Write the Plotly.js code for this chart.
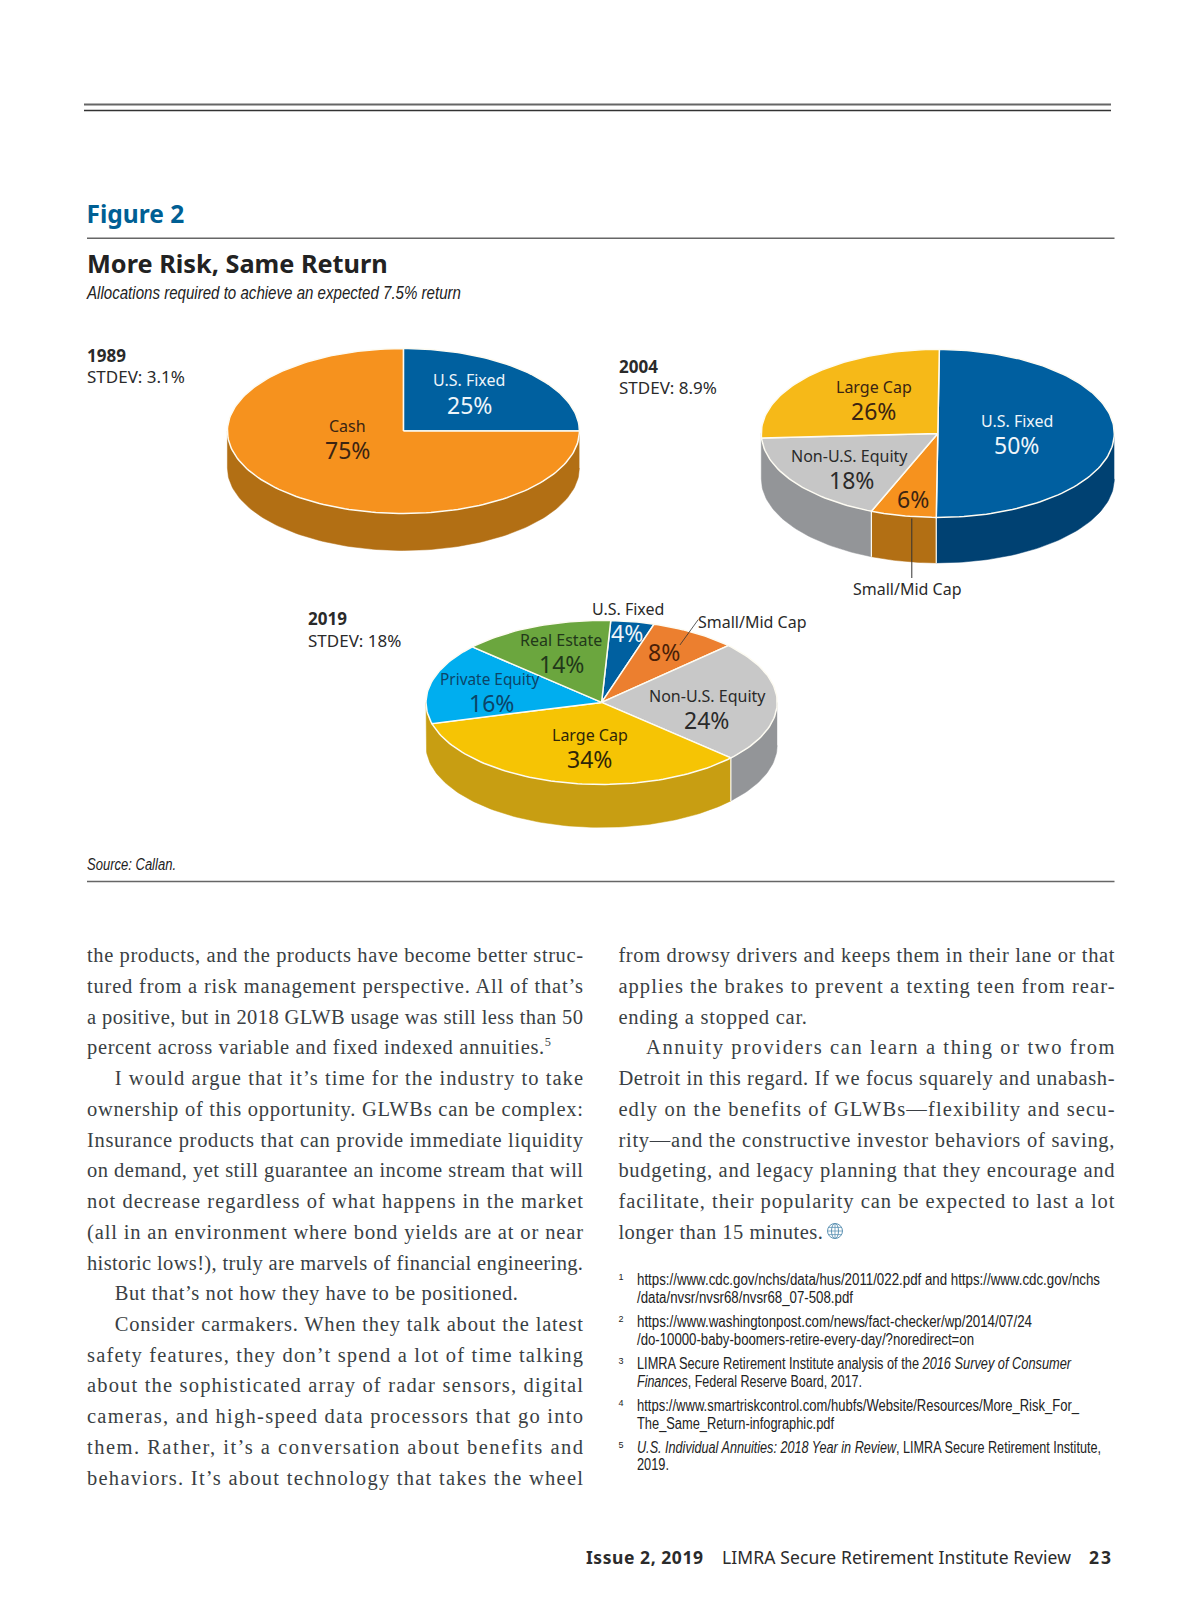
<!DOCTYPE html>
<html><head><meta charset="utf-8">
<script src="https://cdn.plot.ly/plotly-3.0.1.min.js"></script>
<style>
html,body{margin:0;padding:0;background:#fff;width:1200px;height:1606px;overflow:hidden}
#chart{position:absolute;left:0;top:0;width:1200px;height:1606px}
.ln{position:absolute;white-space:nowrap;line-height:1;transform:translateY(-50%);transform-origin:left center}
.body{font-family:"Liberation Serif",serif;font-size:20.5px;color:#3a3f44}
.note{font-family:"Liberation Sans",sans-serif;font-size:16px;color:#222}
.sub{font-family:"Liberation Sans",sans-serif;font-style:italic;font-size:18px;color:#222}
.src{font-family:"Liberation Sans",sans-serif;font-style:italic;font-size:16px;color:#222}
.foot{font-family:"Noto Sans",sans-serif;font-size:17.5px;color:#2b2b2b}
sup{font-size:60%;line-height:0}
</style></head><body>
<div id="chart"></div><div id="page"></div>
<script>
// ---- data ----
const categories1989 = ['U.S. Fixed','Cash'];
const values1989 = [25,75];
const categories2004 = ['U.S. Fixed','Small/Mid Cap','Non-U.S. Equity','Large Cap'];
const values2004 = [50,6,18,26];
const categories2019 = ['U.S. Fixed','Small/Mid Cap','Non-U.S. Equity','Large Cap','Private Equity','Real Estate'];
const values2019 = [4,8,24,34,16,14];
const stdev = {1989:'3.1%',2004:'8.9%',2019:'18%'};

// ---- styling ----
const topColors1989 = ['#00609F','#F6921E'];
const sideColors1989 = ['#004172','#B26F14'];
const topColors2004 = ['#005FA0','#F6921E','#C6C6C6','#F6B918'];
const sideColors2004 = ['#004172','#B26F14','#939598','#939598'];
const topColors2019 = ['#0060A0','#EC7F2F','#C8C8C8','#F6C404','#00AEEF','#6BA63E'];
const sideColors2019 = ['#004172','#B26F14','#939598','#C89E12','#C89E12','#C89E12'];

const W=1200,H=1606;
const px=x=>x/W, py=y=>1-y/H;
const pies=[
 {v:values1989,top:topColors1989,side:sideColors1989,cx:403.4,cy:431,rx:176,ry:82.5,depth:37,start:0},
 {v:values2004,top:topColors2004,side:sideColors2004,cx:937.8,cy:433.4,rx:176.5,ry:84,depth:45.5,start:0.5},
 {v:values2019,top:topColors2019,side:sideColors2019,cx:601.6,cy:702.4,rx:175.6,ry:82,depth:43,start:3}
];
const arc=(a,b)=>{const n=Math.max(2,Math.ceil(Math.abs(b-a)/1.5));const o=[];
  for(let i=0;i<=n;i++)o.push((a+(b-a)*i/n)*Math.PI/180);return o;};
const traces=[],layout={
  width:W,height:H,margin:{l:0,r:0,t:0,b:0},paper_bgcolor:'#fff',plot_bgcolor:'rgba(0,0,0,0)',showlegend:false,
  title:{text:'<b>Figure 2</b>',x:px(86.5),xanchor:'left',xref:'paper',y:py(214),yref:'paper',yanchor:'middle',
    font:{family:'Noto Sans',size:24.5,color:'#005F94'}},
  annotations:[],shapes:[]};
pies.forEach((p,k)=>{
  const s=k?String(k+1):'', pad=0.03, d=p.depth/p.ry;
  layout['xaxis'+s]={domain:[px(p.cx-p.rx*(1+pad)),px(p.cx+p.rx*(1+pad))],range:[-1-pad,1+pad],visible:false,fixedrange:true,anchor:'y'+s};
  layout['yaxis'+s]={domain:[py(p.cy+p.ry*(1+d+pad)),py(p.cy-p.ry*(1+pad))],range:[-1-d-pad,1+pad],visible:false,fixedrange:true,anchor:'x'+s};
  let a=p.start;const tops=[],walls=[];
  p.v.forEach((val,i)=>{
    const b=a+val*3.6;
    const lo=Math.max(a,90),hi=Math.min(b,270);
    if(hi>lo){
      const last=walls[walls.length-1];
      if(last&&last.c===p.side[i])last.hi=hi; else walls.push({lo,hi,c:p.side[i]});
    }
    const A=arc(a,b);
    tops.push({x:[0,...A.map(Math.sin),0],y:[0,...A.map(Math.cos),0],c:p.top[i]});
    a=b;
  });
  const add=(o,w)=>traces.push({type:'scatter',mode:'lines',x:o.x,y:o.y,fill:'toself',fillcolor:o.c,
     line:{color:w?'#fdfbf2':o.c,width:w||0.5},hoverinfo:'skip',xaxis:'x'+s,yaxis:'y'+s});
  walls.forEach(w=>{
    const A=arc(w.lo,w.hi),R=A.slice().reverse();
    add({x:[...A.map(Math.sin),...R.map(Math.sin)],y:[...A.map(Math.cos),...R.map(t=>Math.cos(t)-d)],c:w.c},0);
  });
  // light seams between the side panels, at the slice boundaries
  walls.forEach((w,i)=>{ if(i===0&&w.lo<=90) return;
    const t=w.lo*Math.PI/180;
    traces.push({type:'scatter',mode:'lines',x:[Math.sin(t),Math.sin(t)],y:[Math.cos(t),Math.cos(t)-d],
      line:{color:'#fdfbf2',width:1.2},hoverinfo:'skip',xaxis:'x'+s,yaxis:'y'+s});
  });
  tops.forEach(o=>add(o,1.5));
});

// ---- annotations ----
const note=(t,x,y,size,color,anchor)=>layout.annotations.push({text:t,xref:'paper',yref:'paper',
   x:px(x),y:py(y),xanchor:anchor||'center',yanchor:'middle',showarrow:false,borderpad:0,
   font:{family:'Noto Sans',size:size,color:color}});
const DK='#2a2a2a',BR='#3b2412',WH='#eef5fa',LBL=16,PCT=23;
note('<b>More Risk, Same Return</b>',86,263,25.3,'#222','left');
[[1989,355.3,376.8,86],[2004,366.6,388,617.8],[2019,618.4,640,306.5]].forEach(r=>{
  note('<b>'+r[0]+'</b>',r[3],r[1],17,DK,'left');
  note('STDEV: '+stdev[r[0]],r[3],r[2],17,DK,'left');
});
const labels=[
 [categories1989[0],values1989[0],469,380.5,469,404.6,WH],
 [categories1989[1],values1989[1],347,426,347,449.5,BR],
 [categories2004[0],values2004[0],1016.7,420.8,1016,445.4,WH],
 [categories2004[3],values2004[3],873.8,387,873.8,410.6,BR],
 [categories2004[2],values2004[2],849.3,455.6,851.4,480.2,DK],
 [categories2019[5],values2019[5],561.3,639.9,561.3,663.5,'#22381a'],
 [categories2019[2],values2019[2],707.4,696.3,706.7,719.8,DK],
 [categories2019[3],values2019[3],590.3,735.2,589.6,758.7,'#2f2608'],
];
labels.forEach(l=>{note(l[0],l[2],l[3],LBL,l[6]);note(l[1]+'%',l[4],l[5],PCT,l[6]);});
note(categories2019[4],489.5,679.5,15.4,'#0c4468');
note(values2019[4]+'%',491.4,702.5,PCT,'#0c4468');
note(values2004[1]+'%',912.7,498.6,PCT,BR);
note(categories2004[1],907.5,588.7,LBL,DK);
note(categories2019[0],627.5,609.2,LBL,DK);
note(values2019[0]+'%',626.8,632.8,PCT,WH);
note(categories2019[1],752.5,621.5,LBL,DK);
note(values2019[1]+'%',663.6,652.2,PCT,'#4a1f08');

// ---- rules ----
const rule=(x0,y0,x1,y1,c,w)=>layout.shapes.push({type:'line',xref:'paper',yref:'paper',x0:px(x0),y0:py(y0),x1:px(x1),y1:py(y1),line:{color:c,width:w}});
rule(84,104.5,1111,104.5,'#666',1.8);
rule(84,110.5,1111,110.5,'#333',1.4);
rule(87,238.2,1114.5,238.2,'#666',1.4);
rule(87,881.5,1114.5,881.5,'#666',1.4);
rule(911.8,518.5,911.8,578,'#333',1);
rule(698.3,619.5,679.9,645,'#333',0.8);
// globe mark
const gx=835,gy=1231,gr=7.5,gc='#5f94b5';
const ell=(rx,ry)=>layout.shapes.push({type:'circle',xref:'paper',yref:'paper',x0:px(gx-rx),x1:px(gx+rx),y0:py(gy+ry),y1:py(gy-ry),line:{color:gc,width:1}});
ell(gr,gr);ell(3.5,gr);
rule(gx-gr,gy,gx+gr,gy,gc,0.8);rule(gx,gy-gr,gx,gy+gr,gc,0.8);rule(gx-6.2,gy-3.6,gx+6.2,gy-3.6,gc,0.8);rule(gx-6.2,gy+3.6,gx+6.2,gy+3.6,gc,0.8);

Plotly.newPlot('chart',traces,layout,{staticPlot:true,displayModeBar:false});

// ---- page text round the figure ----
const LY=955.3,ST=30.72,LX=87,LR=583,RX=618.4,RR=1114.5;
const leftLines=[
 ['the products, and the products have become better struc-',LX,LR],
 ['tured from a risk management perspective. All of that’s',LX,LR],
 ['a positive, but in 2018 GLWB usage was still less than 50',LX,LR],
 ['percent across variable and fixed indexed annuities.<sup>5</sup>',LX,551],
 ['I would argue that it’s time for the industry to take',114.7,LR],
 ['ownership of this opportunity. GLWBs can be complex:',LX,LR],
 ['Insurance products that can provide immediate liquidity',LX,LR],
 ['on demand, yet still guarantee an income stream that will',LX,LR],
 ['not decrease regardless of what happens in the market',LX,LR],
 ['(all in an environment where bond yields are at or near',LX,LR],
 ['historic lows!), truly are marvels of financial engineering.',LX,LR],
 ['But that’s not how they have to be positioned.',114.7,518],
 ['Consider carmakers. When they talk about the latest',114.7,LR],
 ['safety features, they don’t spend a lot of time talking',LX,LR],
 ['about the sophisticated array of radar sensors, digital',LX,LR],
 ['cameras, and high-speed data processors that go into',LX,LR],
 ['them. Rather, it’s a conversation about benefits and',LX,LR],
 ['behaviors. It’s about technology that takes the wheel',LX,LR]];
const rightLines=[
 ['from drowsy drivers and keeps them in their lane or that',RX,RR],
 ['applies the brakes to prevent a texting teen from rear-',RX,RR],
 ['ending a stopped car.',RX,807],
 ['Annuity providers can learn a thing or two from',646,RR],
 ['Detroit in this regard. If we focus squarely and unabash-',RX,RR],
 ['edly on the benefits of GLWBs—flexibility and secu-',RX,RR],
 ['rity—and the constructive investor behaviors of saving,',RX,RR],
 ['budgeting, and legacy planning that they encourage and',RX,RR],
 ['facilitate, their popularity can be expected to last a lot',RX,RR],
 ['longer than 15 minutes.',RX,823]];
const notes=[
 [1,'https://www.cdc.gov/nchs/data/hus/2011/022.pdf and https://www.cdc.gov/nchs',1280,1100],
 [0,'/data/nvsr/nvsr68/nvsr68_07-508.pdf',1297.5,853],
 [2,'https://www.washingtonpost.com/news/fact-checker/wp/2014/07/24',1322,1032],
 [0,'/do-10000-baby-boomers-retire-every-day/?noredirect=on',1339.5,974],
 [3,'LIMRA Secure Retirement Institute analysis of the <i>2016 Survey of Consumer</i>',1364,1071],
 [0,'<i>Finances</i>, Federal Reserve Board, 2017.',1381.5,862],
 [4,'https://www.smartriskcontrol.com/hubfs/Website/Resources/More_Risk_For_',1406,1079],
 [0,'The_Same_Return-infographic.pdf',1423.5,834],
 [5,'<i>U.S. Individual Annuities: 2018 Year in Review</i>, LIMRA Secure Retirement Institute,',1448,1101],
 [0,'2019.',1465,669]];
const page=document.getElementById('page');
function put(html,cls,x,y,right,extra){
  const e=document.createElement('div');e.className='ln '+cls;e.innerHTML=html;
  e.style.left=x+'px';e.style.top=y+'px';if(extra)Object.assign(e.style,extra);page.appendChild(e);
  if(right){const n=e.textContent.length;const w=e.getBoundingClientRect().width;
    e.style.letterSpacing=((right-x-w)/Math.max(1,n-1))+'px';}
  return e;
}
// condensed face: the installed sans is narrowed to the line's measure
function narrow(html,cls,x,y,right){
  const e=document.createElement('div');e.className='ln '+cls;e.innerHTML=html;
  e.style.left=x+'px';e.style.top=y+'px';page.appendChild(e);
  const w=e.getBoundingClientRect().width;
  e.style.transform='translateY(-50%) scaleX('+((right-x)/w)+')';
  return e;
}
function fit(){
  leftLines.forEach((l,i)=>put(l[0],'body',l[1],LY+i*ST,l[2]));
  rightLines.forEach((l,i)=>put(l[0],'body',l[1],LY+i*ST,l[2]));
  notes.forEach(n=>{
    if(n[0])put(String(n[0]),'note',618.5,n[2]-3,null,{fontSize:'9px'});
    narrow(n[1],'note',637,n[2],n[3]);
  });
  narrow('Allocations required to achieve an expected 7.5% return','sub',87,293,461);
  narrow('Source: Callan.','src',87,865,176);
  put('<b>Issue 2, 2019</b>','foot',586,1557.5,703);
  put('LIMRA Secure Retirement Institute Review','foot',722,1557.5,1071);
  put('<b>23</b>','foot',1089,1557.5,1111);
}
(document.fonts&&document.fonts.ready?document.fonts.ready:Promise.resolve()).then(fit);
</script>
</body></html>
